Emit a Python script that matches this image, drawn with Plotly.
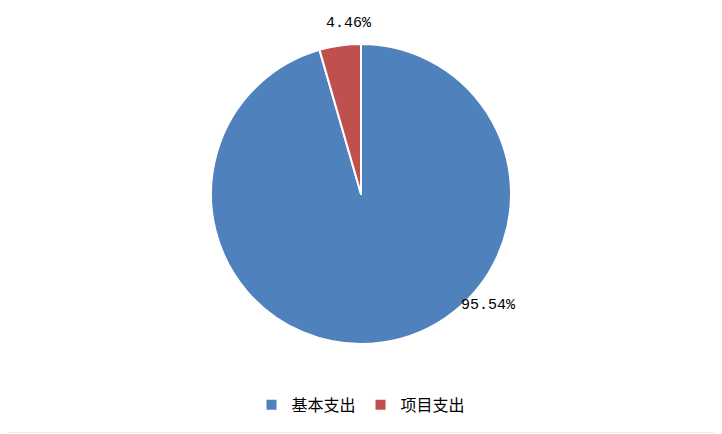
import plotly.graph_objects as go

# 支出构成
categories = ['基本支出', '项目支出']
shares = [95.54, 4.46]
colors = ['#4F81BD', '#C0504D']

# label positions (paper coords), placed like the original chart
label_pos = {'基本支出': (0.681, 0.13), '项目支出': (0.483, 1.067)}

fig = go.Figure(go.Pie(
    labels=categories,
    values=shares,
    sort=False,
    direction='clockwise',
    marker=dict(colors=colors, line=dict(color='white', width=2)),
    textinfo='none',
    hoverinfo='label+percent',
    domain=dict(x=[0, 1], y=[0, 1]),
))

for name, val in zip(categories, shares):
    x, y = label_pos[name]
    fig.add_annotation(x=x, y=y, xref='paper', yref='paper',
                       xanchor='center', yanchor='middle',
                       text=f'{val:.2f}%', showarrow=False,
                       font=dict(family='Liberation Mono, Noto Sans CJK SC', size=15, color='black'))

# faint frame along the bottom edge
fig.add_shape(type='line', xref='paper', yref='paper',
              x0=0, x1=1.0095, y0=-0.295, y1=-0.295,
              line=dict(color='#ececec', width=1))

fig.update_layout(
    width=722, height=434,
    margin=dict(l=0, r=16, t=36, b=98),
    paper_bgcolor='white',
    showlegend=True,
    legend=dict(orientation='h', x=0.5, xanchor='center', y=-0.203, yanchor='middle',
                font=dict(family='Liberation Serif, Noto Sans CJK SC', size=16, color='black'),
                itemwidth=30, traceorder='normal'),
    font=dict(family='Liberation Serif, Noto Sans CJK SC'),
)

fig.write_html('out.html')
